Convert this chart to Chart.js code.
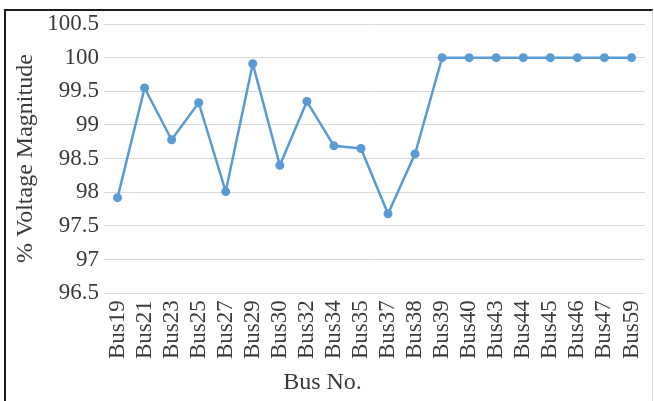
<!DOCTYPE html>
<html>
<head>
<meta charset="utf-8">
<script src="https://cdn.jsdelivr.net/npm/chart.js@4.4.1/dist/chart.umd.min.js"></script>
<style>
  html, body { margin: 0; padding: 0; background: #ffffff; }
  #wrap { position: relative; width: 654px; height: 401px; overflow: hidden; }
  #frame {
    position: absolute; left: 4px; top: 9px; width: 646px; height: 390px;
    border-top: 2px solid #1a1a1a; border-left: 2px solid #1a1a1a;
    border-right: 1px solid #d8d8d8; border-bottom: 1px solid #d8d8d8;
    pointer-events: none;
  }
  canvas { position: absolute; left: 0; top: 0; }
</style>
</head>
<body>
<div id="wrap">
  <canvas id="chart" width="654" height="401"></canvas>
  <div id="frame"></div>
</div>
<script>
// Bus names along the x axis
const buses = ['Bus19', 'Bus21', 'Bus23', 'Bus25', 'Bus27', 'Bus29', 'Bus30', 'Bus32', 'Bus34', 'Bus35',
               'Bus37', 'Bus38', 'Bus39', 'Bus40', 'Bus43', 'Bus44', 'Bus45', 'Bus46', 'Bus47', 'Bus59'];

// Voltage magnitude at each bus, in percent
const voltagePct = [97.92, 99.55, 98.78, 99.33, 98.01, 99.91, 98.40, 99.35, 98.69, 98.65,
                    97.68, 98.57, 100, 100, 100, 100, 100, 100, 100, 100];

// Y axis tick values
const yTicks = [96.5, 97, 97.5, 98, 98.5, 99, 99.5, 100, 100.5];

const serif = '"Liberation Serif", "Times New Roman", serif';
const blue = '#5b9bd5';
const textColor = '#3a3a3a';

new Chart(document.getElementById('chart'), {
  type: 'line',
  data: {
    labels: buses,
    datasets: [{
      data: voltagePct,
      borderColor: blue,
      backgroundColor: blue,
      borderWidth: 2.5,
      pointRadius: 4.5,
      pointHoverRadius: 4.5,
      pointBorderWidth: 0,
      tension: 0,
      fill: false
    }]
  },
  options: {
    responsive: false,
    animation: false,
    layout: { padding: { top: 24, right: 9, left: 0, bottom: 0 } },
    plugins: {
      legend: { display: false },
      tooltip: { enabled: false },
      title: {
        display: true,
        position: 'bottom',
        text: 'Bus No.',
        color: textColor,
        font: { family: serif, size: 24, weight: 'normal', lineHeight: 1.2 },
        padding: { top: 4, bottom: 4 }
      }
    },
    scales: {
      x: {
        offset: true,
        grid: { display: false, drawTicks: false },
        border: { display: false },
        ticks: {
          color: textColor,
          font: { family: serif, size: 23 },
          minRotation: 90,
          maxRotation: 90,
          autoSkip: false,
          padding: 7
        },
        afterFit: (s) => { s.height = 71; s.paddingLeft = 0; s.paddingRight = 0; }
      },
      y: {
        min: 96.5,
        max: 100.5,
        grid: { color: '#d9d9d9', lineWidth: 1, drawTicks: false },
        border: { display: false },
        afterBuildTicks: (s) => { s.ticks = yTicks.map(v => ({ value: v })); },
        ticks: {
          color: textColor,
          font: { family: serif, size: 23 },
          padding: 5,
          callback: (v) => String(v)
        },
        title: {
          display: true,
          text: '% Voltage Magnitude',
          color: textColor,
          font: { family: serif, size: 24, lineHeight: 1.2 },
          padding: { top: 11, bottom: 0 }
        },
        afterFit: (s) => { s.width = 104; s.paddingTop = 0; s.paddingBottom = 0; }
      }
    }
  }
});
</script>
</body>
</html>
